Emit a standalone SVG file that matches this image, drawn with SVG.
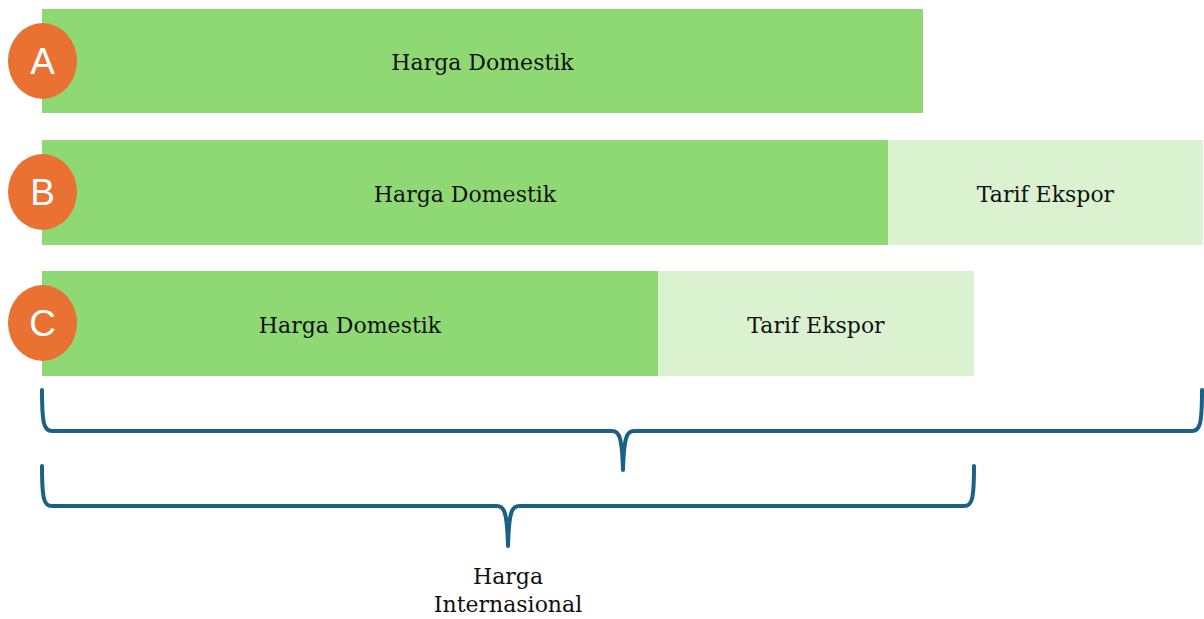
<svg xmlns="http://www.w3.org/2000/svg" width="1204" height="619" viewBox="0 0 1204 619">
<style>
.dom{fill:#8ed973}
.tar{fill:#daf2d0}
.badge{fill:#e97132}
.bl{font-family:"Liberation Sans",Arial,sans-serif;font-size:37px;fill:#ffffff;text-anchor:middle}
.t{font-family:"DejaVu Serif","Liberation Serif",serif;font-size:22px;fill:#111111;text-anchor:middle}
.brace{fill:none;stroke:#1b6185;stroke-width:4;stroke-linecap:round;stroke-linejoin:round}
</style>
<rect width="1204" height="619" fill="#ffffff"/>
<g id="rowA">
<rect class="dom" x="42" y="9" width="881" height="104"/>
<text class="t" x="482.5" y="70">Harga Domestik</text>
<ellipse class="badge" cx="42.5" cy="61" rx="34.5" ry="38"/>
<text class="bl" x="42.5" y="74">A</text>
</g>
<g id="rowB">
<rect class="dom" x="42" y="140" width="846" height="105"/>
<rect class="tar" x="888" y="140" width="315" height="105"/>
<text class="t" x="465" y="202">Harga Domestik</text>
<text class="t" x="1045.5" y="202">Tarif Ekspor</text>
<ellipse class="badge" cx="42.5" cy="192" rx="34.5" ry="38"/>
<text class="bl" x="42.5" y="205">B</text>
</g>
<g id="rowC">
<rect class="dom" x="42" y="271" width="616" height="105"/>
<rect class="tar" x="658" y="271" width="316" height="105"/>
<text class="t" x="350" y="333">Harga Domestik</text>
<text class="t" x="816" y="333">Tarif Ekspor</text>
<ellipse class="badge" cx="42.5" cy="323" rx="34.5" ry="38"/>
<text class="bl" x="42.5" y="336">C</text>
</g>
<g id="connectors">
<path class="brace" d="M42,390 C42,424 44,431 52,431 L612,431 C619,431 622,436 623,470 C624,436 627,431 634,431 L1192,431 C1200,431 1202,424 1202,390"/>
<path class="brace" d="M42,466 C42,500 44,506 52,506 L497,506 C504,506 507,511 508,546 C509,511 512,506 519,506 L964,506 C972,506 974,500 974,466"/>
</g>
<g id="label">
<text class="t" x="508" y="584">Harga</text>
<text class="t" x="508" y="612">Internasional</text>
</g>
</svg>
